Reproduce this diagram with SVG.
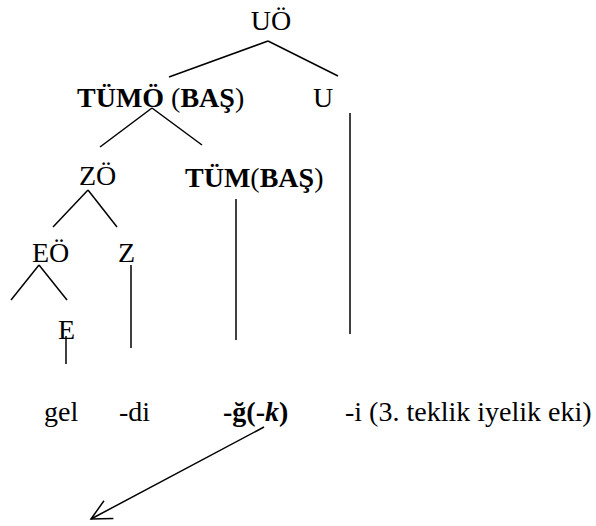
<svg xmlns="http://www.w3.org/2000/svg" width="596" height="526" viewBox="0 0 596 526">
<defs>
<marker id="ah" markerWidth="24" markerHeight="24" refX="22" refY="12" orient="auto" markerUnits="userSpaceOnUse">
<path d="M2,2 L22,12 L2,22" fill="none" stroke="#000" stroke-width="1.5"/>
</marker>
</defs>
<rect width="596" height="526" fill="#fff"/>
<g id="connectors" stroke="#000" stroke-width="1.5" fill="none">
<line x1="268" y1="41" x2="169" y2="77"/>
<line x1="268" y1="41" x2="338" y2="76"/>
<line x1="152" y1="108" x2="100" y2="147"/>
<line x1="152" y1="108" x2="202" y2="145"/>
<line x1="350" y1="113" x2="350" y2="334"/>
<line x1="88" y1="190" x2="53" y2="227"/>
<line x1="88" y1="190" x2="117" y2="227"/>
<line x1="236" y1="199" x2="236" y2="340"/>
<line x1="39" y1="265" x2="11" y2="300"/>
<line x1="39" y1="265" x2="67" y2="300"/>
<line x1="131" y1="265" x2="131" y2="348"/>
<line x1="66" y1="336" x2="66" y2="364"/>
<line x1="264" y1="427" x2="91" y2="519" marker-end="url(#ah)"/>
</g>
<g font-family="Liberation Serif" font-size="28" fill="#000">
<g id="n-uo"><text x="271" y="30" text-anchor="middle">UÖ</text></g>
<g id="n-tumo"><text x="77" y="107"><tspan font-weight="bold">TÜMÖ</tspan> (<tspan font-weight="bold">BAŞ</tspan>)</text></g>
<g id="n-u"><text x="313" y="107">U</text></g>
<g id="n-zo"><text x="79" y="185">ZÖ</text></g>
<g id="n-tum"><text x="185" y="187"><tspan font-weight="bold">TÜM</tspan>(<tspan font-weight="bold">BAŞ</tspan>)</text></g>
<g id="n-eo"><text x="32" y="262">EÖ</text></g>
<g id="n-z"><text x="118" y="262">Z</text></g>
<g id="n-e"><text x="58" y="339">E</text></g>
<g id="n-gel"><text x="44" y="421">gel</text></g>
<g id="n-di"><text x="119" y="421">-di</text></g>
<g id="n-g"><text x="223" y="421" font-weight="bold">-ğ(-<tspan font-style="italic">k</tspan>)</text></g>
<g id="n-i"><text x="345" y="421">-i (3. teklik iyelik eki)</text></g>
</g>
</svg>
